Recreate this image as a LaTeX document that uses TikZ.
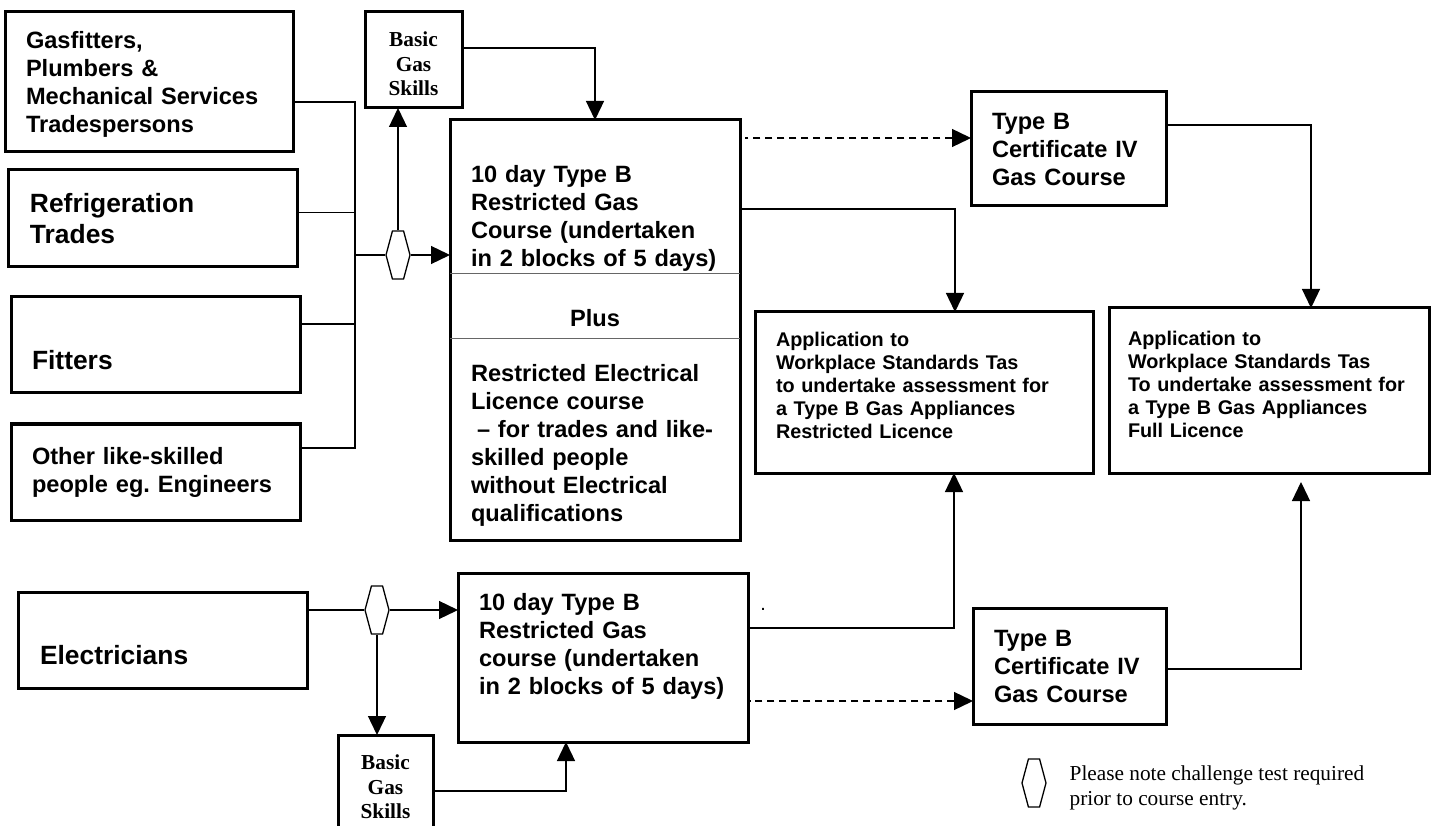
\documentclass[tikz,border=0pt]{standalone}
\usepackage{fontspec}
\setmainfont{Liberation Sans}
\newfontfamily\timesfont{Liberation Serif}
\usepackage{tikz}
\usetikzlibrary{arrows.meta, shapes.symbols}
\frenchspacing

\newcommand{\ftext}{\fontsize{23.6}{28}\selectfont}
\newcommand{\fbig}{\fontsize{26.4}{31}\selectfont}
\newcommand{\fapp}{\fontsize{19.8}{23}\selectfont}
\newcommand{\fbasic}{\fontsize{21.3}{24.5}\selectfont}
\newcommand{\fnote}{\fontsize{21.3}{25}\selectfont}

\begin{document}
\begin{tikzpicture}[>={Triangle[length=19pt,width=18pt]}, x=1pt, y=-1pt,
                    line width=1.3pt]
\tikzstyle{box}=[draw, rectangle, line width=3pt, anchor=north west,
                 outer sep=0pt, inner ysep=2pt, align=left]
\tikzstyle{basic}=[draw, rectangle, line width=3pt, anchor=north west,
                   outer sep=0pt, align=center, font=\timesfont\bfseries\fbasic]
\tikzstyle{hex}=[draw, fill=white, signal, signal to=east and west,
                 signal pointer angle=150, minimum width=24pt,
                 minimum height=48pt, inner sep=0pt, line width=1.3pt]
\tikzstyle{divider}=[line width=0.8pt, black!60]
\tikzstyle{dashline}=[dash pattern=on 7pt off 5pt]
\useasboundingbox (0,0) rectangle (1436,826);

  \node[box, font=\bfseries\ftext, text width=246pt, inner xsep=21pt,
        minimum width=288pt, minimum height=140pt] (Gas) at (5,12)
        {\rule{0pt}{21pt}Gasfitters,\\ Plumbers \&\\ Mechanical Services\\ Tradespersons};
  \node[box, font=\bfseries\fbig, text width=245pt, inner xsep=22pt,
        minimum width=289pt, minimum height=97pt] (Ref) at (8,170)
        {Refrigeration\\ Trades};
  \node[box, font=\bfseries\fbig, text width=247pt, inner xsep=21pt,
        minimum width=289pt, minimum height=96pt] (Fit) at (11,297)
        {\rule{0pt}{50pt}Fitters};
  \node[box, font=\bfseries\ftext, text width=247pt, inner xsep=21pt,
        minimum width=289pt, minimum height=96pt] (Oth) at (11,424)
        {Other like-skilled\\ people eg. Engineers};
  \node[box, font=\bfseries\fbig, text width=245pt, inner xsep=22pt,
        minimum width=289pt, minimum height=96pt] (Ele) at (18,592)
        {\rule{0pt}{50pt}Electricians};

  \node[basic, minimum width=97pt, minimum height=96pt] (BG1) at (365,12)
        {\rule{0pt}{23pt}Basic\\ Gas\\ Skills};
  \node[basic, minimum width=95pt, minimum height=96pt] (BG2) at (338,735)
        {\rule{0pt}{23pt}Basic\\ Gas\\ Skills};

  \node[box, font=\bfseries\ftext, text width=248pt, inner xsep=21pt,
        minimum width=290pt, minimum height=420pt] (C1) at (450,120)
        {\rule{0pt}{48pt}10 day Type B\\ Restricted Gas\\ Course (undertaken\\
         in 2 blocks of 5 days)\\[32pt] \makebox[\linewidth]{Plus}\\[27pt]
         Restricted Electrical\\ Licence course\\
         \hspace*{6pt}– for trades and like-\\ skilled people\\
         without Electrical\\ qualifications};
  \node[box, font=\bfseries\ftext, text width=248pt, inner xsep=21pt,
        minimum width=290pt, minimum height=169pt] (C2) at (458,573)
        {10 day Type B\\ Restricted Gas\\ course (undertaken\\
         in 2 blocks of 5 days)\rule[-27pt]{0pt}{1pt}};

  \node[box, font=\bfseries\ftext, text width=153pt, inner xsep=21pt,
        minimum width=195pt, minimum height=114pt] (T1) at (971,92)
        {Type B\\ Certificate IV\\ Gas Course};
  \node[box, font=\bfseries\ftext, text width=151pt, inner xsep=21pt,
        minimum width=193pt, minimum height=116pt] (T2) at (973,608)
        {Type B\\ Certificate IV\\ Gas Course};

  \node[box, font=\bfseries\fapp, text width=296pt, inner xsep=21pt,
        minimum width=338pt, minimum height=161pt] (A1) at (755,312)
        {Application to\\ Workplace Standards Tas\\ to undertake assessment for\\
         a Type B Gas Appliances\\ Restricted Licence\rule[-14pt]{0pt}{1pt}};
  \node[box, font=\bfseries\fapp, text width=282pt, inner xsep=19pt,
        minimum width=320pt, minimum height=165pt] (A2) at (1109,308)
        {Application to\\ Workplace Standards Tas\\ To undertake assessment for\\
         a Type B Gas Appliances\\ Full Licence\rule[-13pt]{0pt}{1pt}};

  \draw[divider] ([yshift=-153pt]C1.north west) -- ([yshift=-153pt]C1.north east);
  \draw[divider] ([yshift=-218pt]C1.north west) -- ([yshift=-218pt]C1.north east);

  \node[hex] (H1) at (398,255) {};
  \node[hex] (H2) at (377,610) {};
  \node[hex] (H3) at (1034,783) {};
  \node[anchor=west, align=left, inner sep=0pt, font=\timesfont\fnote] (Note)
        at (1069,788) {Please note challenge test required\\ prior to course entry.};
  \node[inner sep=0pt, font=\fapp] (Dot) at (763,609) {.};

  \coordinate (J) at (355,255);
  \draw ([yshift=-20pt]Gas.east) -- ++(62,0) |- ([yshift=24pt]Oth.east);
  \draw ([yshift=6pt]Ref.east) -- ++(58,0);
  \draw ([yshift=21pt]Fit.east) -- ++(55,0);
  \draw (J) -- (H1.west);
  \draw[->] (H1.east) -- (H1.east -| C1.west);
  \draw[->] (H1.north) -- (H1.north |- BG1.south);
  \draw[->] ([yshift=12pt]BG1.east) -| (C1.north);
  \draw[<-, dashline] ([yshift=11pt]T1.west) -- ++(-226,0);
  \draw[->] ([yshift=121pt]C1.east) -| ([xshift=31pt]A1.north);
  \draw[->] ([yshift=24pt]T1.east) -| ([xshift=42pt]A2.north);

  \draw ([yshift=30pt]Ele.east) -- (H2.west);
  \draw[->] (H2.east) -- (H2.east -| C2.west);
  \draw[->] (H2.south) -- (H2.south |- BG2.north);
  \draw[->] ([yshift=-8pt]BG2.east) -| ([xshift=-37pt]C2.south);
  \draw[->] ([yshift=29.5pt]C2.east) -| ([xshift=30pt]A1.south);
  \draw[<-, dashline] ([yshift=-35pt]T2.west) -- ++(-223,0);
  \draw[->, shorten >=9pt] ([yshift=-3pt]T2.east) -| ([xshift=32pt]A2.south);
\end{tikzpicture}
\end{document}
